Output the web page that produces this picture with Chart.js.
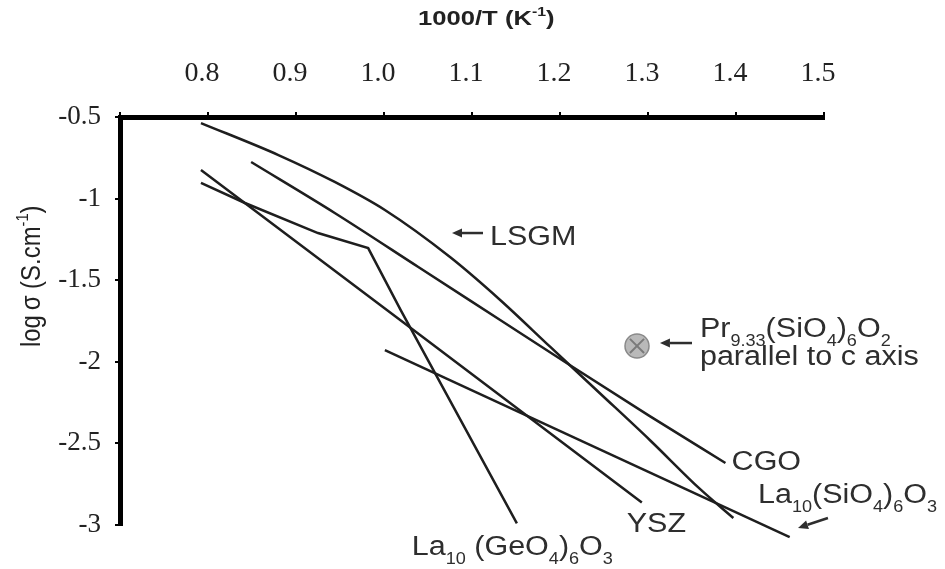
<!DOCTYPE html>
<html>
<head>
<meta charset="utf-8">
<script src="https://cdn.jsdelivr.net/npm/chart.js@4.4.1/dist/chart.umd.min.js"></script>
<style>
  html, body { margin: 0; padding: 0; background: #ffffff; overflow: hidden; }
  canvas { display: block; }
</style>
</head>
<body>
<canvas id="c" width="945" height="569"></canvas>
<script>
// ---------- data ----------
const xTickLabels = ['', '0.8', '0.9', '1.0', '1.1', '1.2', '1.3', '1.4', '1.5'];
const yTickLabels = ['-3', '-2.5', '-2', '-1.5', '-1', '-0.5'];

const lsgmX = [0.792, 0.880, 0.944, 1.001, 1.075, 1.132, 1.189, 1.245, 1.302, 1.359, 1.397];
const lsgmY = [-0.537, -0.733, -0.898, -1.070, -1.358, -1.621, -1.909, -2.191, -2.479, -2.779, -2.957];

const cgoX = [0.849, 0.944, 1.039, 1.132, 1.211, 1.302, 1.388];
const cgoY = [-0.776, -1.088, -1.419, -1.744, -2.020, -2.333, -2.620];

const yszX = [0.792, 1.041, 1.293];
const yszY = [-0.825, -1.836, -2.862];

const geX = [0.792, 0.842, 0.925, 0.982, 1.019, 1.151];
const geY = [-0.904, -1.027, -1.211, -1.303, -1.683, -2.99];

const siX = [1.001, 1.461];
const siY = [-1.928, -3.074];

const prX = [1.2875];
const prY = [-1.903];

// ---------- helpers ----------
const toXY = (xs, ys) => xs.map((v, i) => ({ x: v, y: ys[i] }));
const LINE = '#1e1e1e';
const TEXT = '#2e2e2e';
const SANS = "'Liberation Sans', Arial, Helvetica, sans-serif";
const SERIF = "'Liberation Serif', 'Times New Roman', serif";

// annotation anchors in data units
const notes = [
  { pos: [1.1205, -1.284], parts: [['LSGM', 0]] },
  { pos: [1.359, -1.848], parts: [['Pr', 0], ['9.33', -1], ['(SiO', 0], ['4', -1], [')', 0], ['6', -1], ['O', 0], ['2', -1]] },
  { pos: [1.359, -2.020], parts: [['parallel to c axis', 0]] },
  { pos: [1.395, -2.663], parts: [['CGO', 0]] },
  { pos: [1.425, -2.865], parts: [['La', 0], ['10', -1], ['(SiO', 0], ['4', -1], [')', 0], ['6', -1], ['O', 0], ['3', -1]] },
  { pos: [1.2758, -3.041], parts: [['YSZ', 0]] },
  { pos: [1.0315, -3.184], parts: [['La', 0], ['10', -1], [' (GeO', 0], ['4', -1], [')', 0], ['6', -1], ['O', 0], ['3', -1]] }
];
const arrows = [
  { tail: [1.1125, -1.211], head: [1.0773, -1.211] },
  { tail: [1.350, -1.885], head: [1.3136, -1.885] },
  { tail: [1.5045, -2.957], head: [1.4705, -3.018] }
];

function drawRich(ctx, x, y, parts, size, weight, sx, sy) {
  ctx.save();
  ctx.translate(x, y);
  ctx.scale(sx, sy);
  ctx.textBaseline = 'alphabetic';
  ctx.textAlign = 'left';
  let cx = 0;
  for (const [t, k] of parts) {
    const fs = k ? Math.round(size * 0.6) : size;
    ctx.font = `${weight} ${fs}px ${SANS}`;
    const dy = k < 0 ? size * 0.33 : (k > 0 ? -size * 0.42 : 0);
    ctx.fillText(t, cx, dy);
    cx += ctx.measureText(t).width;
  }
  ctx.restore();
}

function drawArrow(ctx, x1, y1, x2, y2) {
  const ang = Math.atan2(y2 - y1, x2 - x1);
  const L = 10, W = 4.5;
  const bx = x2 - Math.cos(ang) * L, by = y2 - Math.sin(ang) * L;
  ctx.beginPath();
  ctx.moveTo(x1, y1);
  ctx.lineTo(bx, by);
  ctx.stroke();
  ctx.beginPath();
  ctx.moveTo(x2, y2);
  ctx.lineTo(bx - Math.sin(ang) * W, by + Math.cos(ang) * W);
  ctx.lineTo(bx + Math.sin(ang) * W, by - Math.cos(ang) * W);
  ctx.closePath();
  ctx.fill();
}

const annotPlugin = {
  id: 'annot',
  afterDatasetsDraw(chart) {
    const { ctx } = chart;
    const xs = chart.scales.x, ys = chart.scales.y;
    const X = v => xs.getPixelForValue(v), Y = v => ys.getPixelForValue(v);
    ctx.save();
    ctx.fillStyle = TEXT;
    ctx.strokeStyle = TEXT;
    ctx.lineWidth = 2.5;
    for (const a of arrows) {
      drawArrow(ctx, X(a.tail[0]), Y(a.tail[1]), X(a.head[0]), Y(a.head[1]));
    }
    for (const n of notes) {
      drawRich(ctx, X(n.pos[0]), Y(n.pos[1]), n.parts, 27, 'normal', 1.13, 1);
    }
    ctx.restore();
  },
  afterDraw(chart) {
    const { ctx } = chart;
    ctx.save();
    ctx.fillStyle = '#222';
    // top axis title
    drawRich(ctx, 418, 25, [['1000/T (K', 0], ['-1', 1], [')', 0]], 21, 'bold', 1.22, 1);
    // left axis title (rotated)
    ctx.save();
    ctx.translate(40, 347);
    ctx.rotate(-Math.PI / 2);
    drawRich(ctx, 0, 0, [['log\u2009\u03c3 (S.cm', 0], ['-1', 1], [')', 0]], 23, 'normal', 1.04, 1.2);
    ctx.restore();
    ctx.restore();
  }
};

const lineDs = (label, xs, ys, extra) => Object.assign({
  label,
  data: toXY(xs, ys),
  borderColor: LINE,
  borderWidth: 2.5,
  pointRadius: 0,
  fill: false,
  tension: 0
}, extra || {});

new Chart(document.getElementById('c'), {
  type: 'line',
  data: {
    datasets: [
      lineDs('LSGM', lsgmX, lsgmY, { cubicInterpolationMode: 'monotone' }),
      lineDs('CGO', cgoX, cgoY, { cubicInterpolationMode: 'monotone' }),
      lineDs('YSZ', yszX, yszY),
      lineDs('La10(GeO4)6O3', geX, geY),
      lineDs('La10(SiO4)6O3', siX, siY, { clip: false }),
      {
        label: 'Pr cross',
        data: toXY(prX, prY),
        showLine: false,
        pointStyle: 'crossRot',
        pointRadius: 10,
        pointBorderColor: '#7a7a7a',
        pointBorderWidth: 2
      },
      {
        label: 'Pr9.33(SiO4)6O2',
        data: toXY(prX, prY),
        showLine: false,
        pointRadius: 12,
        pointBackgroundColor: '#b9b9b9',
        pointBorderColor: '#8a8a8a',
        pointBorderWidth: 1.5
      }
    ]
  },
  options: {
    responsive: false,
    animation: false,
    devicePixelRatio: 1,
    layout: { padding: { left: 0, top: 0, right: 121, bottom: 44 } },
    plugins: { legend: { display: false }, tooltip: { enabled: false } },
    scales: {
      x: {
        type: 'linear',
        position: 'top',
        min: 0.7,
        max: 1.5,
        afterFit: s => { s.height = 117; },
        border: { display: true, width: 5, color: '#000' },
        grid: { display: true, drawOnChartArea: false, drawTicks: true, tickLength: 5, color: '#000', lineWidth: 2 },
        ticks: {
          stepSize: 0.1,
          padding: 22,
          labelOffset: -6,
          maxRotation: 0,
          autoSkip: false,
          color: '#222',
          font: { family: SERIF, size: 28 },
          callback: (v, i) => xTickLabels[i]
        }
      },
      y: {
        type: 'linear',
        min: -3,
        max: -0.5,
        afterFit: s => { s.width = 120; },
        border: { display: true, width: 5, color: '#000' },
        grid: { display: true, drawOnChartArea: false, drawTicks: true, tickLength: 5, color: '#000', lineWidth: 2 },
        ticks: {
          stepSize: 0.5,
          padding: 14,
          autoSkip: false,
          color: '#222',
          font: { family: SERIF, size: 27 },
          callback: (v, i) => yTickLabels[i]
        }
      }
    }
  },
  plugins: [annotPlugin]
});
</script>
</body>
</html>
